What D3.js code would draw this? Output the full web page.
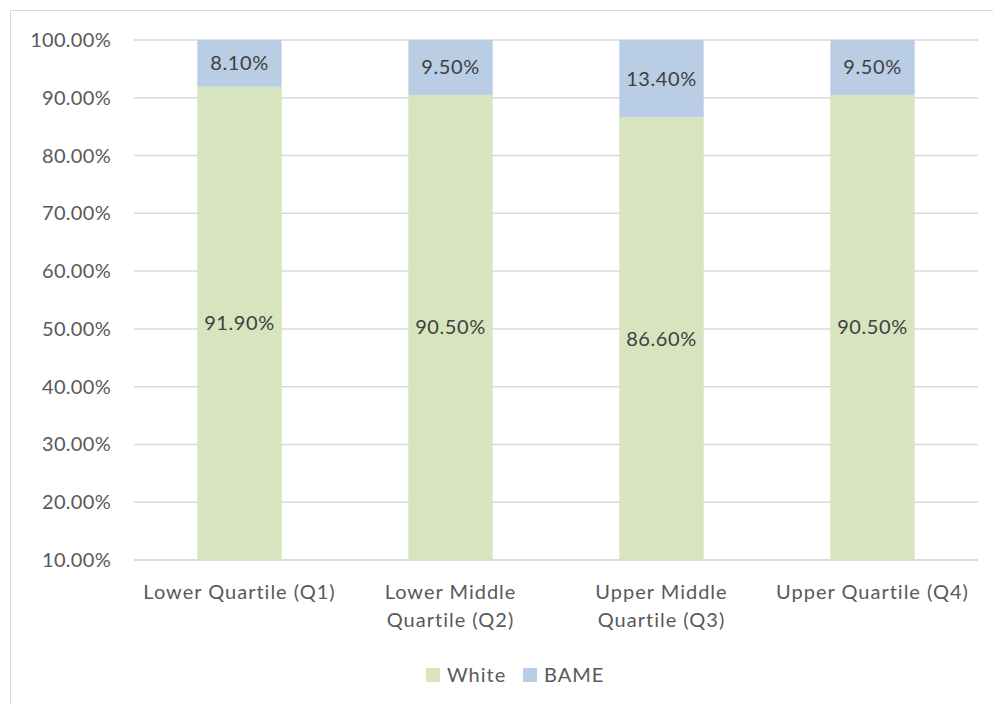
<!DOCTYPE html>
<html>
<head>
<meta charset="utf-8">
<script src="https://cdn.jsdelivr.net/npm/d3@7"></script>
<style>
  body { margin: 0; background: #fff; }
  svg { display: block; font-family: Lato, "Open Sans", sans-serif; }
</style>
</head>
<body>
<svg width="993" height="704"></svg>
<script>
// категории и значения серий
const categories = [
    ["Lower Quartile (Q1)"],
    ["Lower Middle", "Quartile (Q2)"],
    ["Upper Middle", "Quartile (Q3)"],
    ["Upper Quartile (Q4)"]
];
const white = [91.9, 90.5, 86.6, 90.5];
const bame = [8.1, 9.5, 13.4, 9.5];
const yTicks = [10, 20, 30, 40, 50, 60, 70, 80, 90, 100];
const seriesNames = ["White", "BAME"];
const colors = ["#d7e4bd", "#b9cde5"];

let svg = d3.select("svg");

// рамка диаграммы
svg.append("rect")
    .attr("x", 10.5).attr("y", 10.5)
    .attr("width", 1000).attr("height", 1000)
    .attr("fill", "none").attr("stroke", "#d9d9d9");

const area = { left: 134, right: 978, top: 40, bottom: 560 };

let scX = d3.scaleBand()
    .domain(d3.range(categories.length))
    .range([area.left, area.right])
    .paddingInner(0.6)
    .paddingOuter(0.3);

let scY = d3.scaleLinear()
    .domain([10, 100])
    .range([area.bottom, area.top]);

// сетка
svg.append("g")
    .selectAll("line")
    .data(yTicks)
    .enter()
    .append("line")
    .attr("x1", area.left).attr("x2", area.right)
    .attr("y1", d => scY(d)).attr("y2", d => scY(d))
    .attr("stroke", "#d9d9d9").attr("stroke-width", 1.5);

// подписи оси Y
svg.append("g")
    .selectAll("text")
    .data(yTicks)
    .enter()
    .append("text")
    .attr("x", 111)
    .attr("y", d => scY(d))
    .attr("dy", "0.35em")
    .attr("text-anchor", "end")
    .attr("font-size", 20)
    .attr("letter-spacing", 0.3)
    .attr("fill", "#595959")
    .text(d => d.toFixed(2) + "%");

// стеки
const stackData = white.map((w, i) => ({ i: i, White: w, BAME: bame[i] }));
const stacked = d3.stack().keys(seriesNames)(stackData);

stacked.forEach((layer, k) => {
    svg.append("g")
        .selectAll("rect")
        .data(layer)
        .enter()
        .append("rect")
        .attr("x", d => scX(d.data.i))
        .attr("width", scX.bandwidth())
        .attr("y", d => scY(Math.min(d[1], 100)))
        .attr("height", d => scY(Math.max(d[0], 10)) - scY(Math.min(d[1], 100)))
        .attr("fill", colors[k]);

    svg.append("g")
        .selectAll("text")
        .data(layer)
        .enter()
        .append("text")
        .attr("x", d => scX(d.data.i) + scX.bandwidth() / 2)
        .attr("y", d => (scY(Math.max(d[0], 10)) + scY(Math.min(d[1], 100))) / 2)
        .attr("dy", "0.35em")
        .attr("text-anchor", "middle")
        .attr("font-size", 20)
        .attr("letter-spacing", 0.6)
        .attr("fill", "#404040")
        .text(d => d.data[seriesNames[k]].toFixed(2) + "%");
});

// ось X
svg.append("line")
    .attr("x1", area.left).attr("x2", area.right)
    .attr("y1", area.bottom).attr("y2", area.bottom)
    .attr("stroke", "#d9d9d9").attr("stroke-width", 1.5);

let xLabels = svg.append("g")
    .selectAll("text")
    .data(categories)
    .enter()
    .append("text")
    .attr("text-anchor", "middle")
    .attr("font-size", 20)
    .attr("letter-spacing", 1)
    .attr("fill", "#595959");

xLabels.selectAll("tspan")
    .data((d, i) => d.map(s => ({ s: s, i: i })))
    .enter()
    .append("tspan")
    .attr("x", d => scX(d.i) + scX.bandwidth() / 2)
    .attr("y", (d, j) => 592 + j * 28)
    .attr("dy", "0.35em")
    .text(d => d.s);

// легенда
const legendX = [426, 523];
let legend = svg.append("g")
    .selectAll("g")
    .data(seriesNames)
    .enter()
    .append("g")
    .attr("transform", (d, i) => `translate(${legendX[i]}, 675)`);

legend.append("rect")
    .attr("x", 0).attr("y", -7)
    .attr("width", 14).attr("height", 14)
    .attr("fill", (d, i) => colors[i]);

legend.append("text")
    .attr("x", 21)
    .attr("dy", "0.35em")
    .attr("font-size", 20)
    .attr("letter-spacing", 1)
    .attr("fill", "#595959")
    .text(d => d);
</script>
</body>
</html>
